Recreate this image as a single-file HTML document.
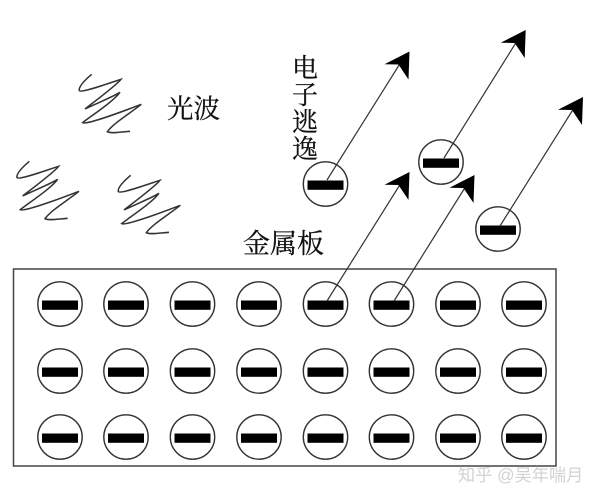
<!DOCTYPE html>
<html>
<head>
<meta charset="utf-8">
<style>
html,body{margin:0;padding:0;background:#fff;}
svg{display:block;filter:blur(.3px);}
text{font-family:"Liberation Serif","Noto Serif CJK SC",serif;fill:#111;stroke:#111;stroke-width:.25;}
text.wm{font-family:"Liberation Sans","Noto Sans CJK SC",sans-serif;fill:#d2d2d2;stroke:none;}
</style>
</head>
<body>
<svg width="600" height="500" viewBox="0 0 600 500" xmlns="http://www.w3.org/2000/svg">
<defs>
<g id="e">
<circle cx="0" cy="0" r="22.2" fill="#fff" stroke="#333" stroke-width="1.4"/>
<rect x="-18" y="-3.5" width="36" height="9.3" fill="#000"/>
</g>
<path id="h" d="M0,0 L-25,12.7 L-11,13 L-1,28 Z" fill="#000"/>
<path id="w" d="M275,43 C255,60 235,80 238,92 C245,100 340,65 363,58 C350,75 290,120 255,147 C290,130 340,110 360,97 C340,125 270,170 248,188 C260,195 380,150 424,133 C390,160 340,190 322,215 C335,222 370,215 390,214" fill="none" stroke="#333" stroke-width="4.6"/>
</defs>
<rect width="600" height="500" fill="#fff"/>

<g transform="translate(0,60) scale(.3333)">
<use href="#w"/>
<use href="#w" transform="translate(-187,261)"/>
<use href="#w" transform="translate(117,303)"/>
</g>

<rect x="13.5" y="269" width="542.5" height="197" fill="#fff" stroke="#444" stroke-width="1.5"/>

<use href="#e" x="60" y="304"/><use href="#e" x="126" y="304"/><use href="#e" x="192.5" y="304"/><use href="#e" x="259" y="304"/><use href="#e" x="325.5" y="304"/><use href="#e" x="391.5" y="304"/><use href="#e" x="458" y="304"/><use href="#e" x="524" y="304"/>
<use href="#e" x="60" y="371"/><use href="#e" x="126" y="371"/><use href="#e" x="192.5" y="371"/><use href="#e" x="259" y="371"/><use href="#e" x="325.5" y="371"/><use href="#e" x="391.5" y="371"/><use href="#e" x="458" y="371"/><use href="#e" x="524" y="371"/>
<use href="#e" x="60" y="437"/><use href="#e" x="126" y="437"/><use href="#e" x="192.5" y="437"/><use href="#e" x="259" y="437"/><use href="#e" x="325.5" y="437"/><use href="#e" x="391.5" y="437"/><use href="#e" x="458" y="437"/><use href="#e" x="524" y="437"/>

<use href="#e" x="325.5" y="184"/>
<use href="#e" x="441" y="162"/>
<use href="#e" x="498" y="229"/>

<g stroke="#333" stroke-width="1.2" fill="none">
<line x1="327" y1="180" x2="401" y2="62"/>
<line x1="444" y1="158" x2="517" y2="41"/>
<line x1="500" y1="226" x2="574" y2="108"/>
<line x1="327" y1="301" x2="401" y2="183"/>
<line x1="394" y1="301" x2="466" y2="186"/>
</g>

<use href="#h" x="409.5" y="51.5"/>
<use href="#h" x="525.7" y="30"/>
<use href="#h" x="583" y="97"/>
<use href="#h" x="409.5" y="172"/>
<use href="#h" x="474.5" y="175"/>

<text x="167" y="118" font-size="26.5">光波</text>
<text x="243" y="253" font-size="27">金属板</text>
<text x="292" y="77" font-size="26">电</text>
<text x="292" y="104" font-size="26">子</text>
<text x="292" y="131" font-size="26">逃</text>
<text x="292" y="158" font-size="26">逸</text>

<text class="wm" x="458" y="481" font-size="17.2">知乎 @吴年喘月</text>
</svg>
</body>
</html>
